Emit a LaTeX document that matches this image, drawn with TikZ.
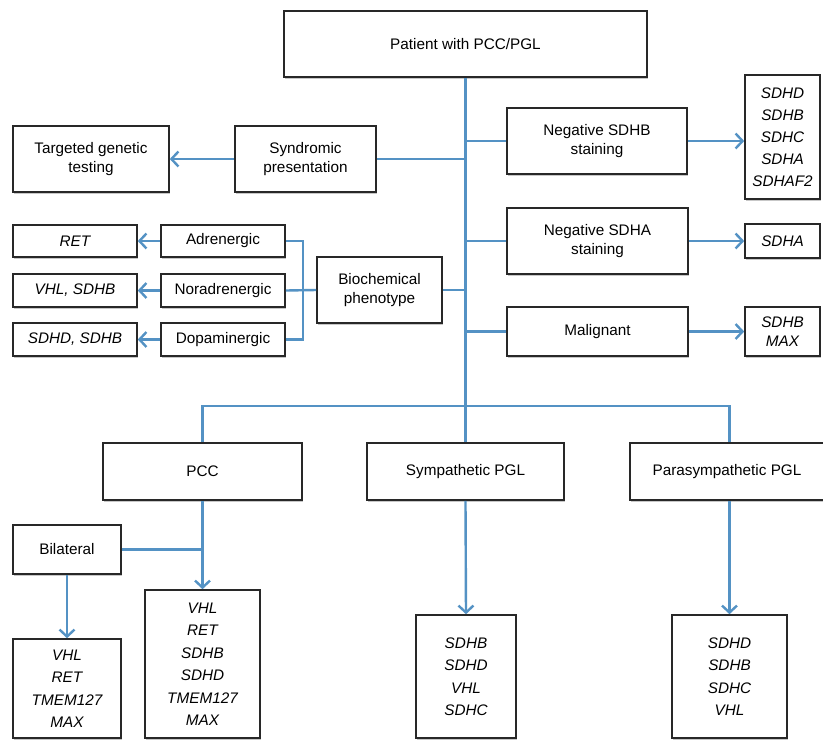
\documentclass[tikz,border=0pt]{standalone}
\usepackage{fontspec}
\setmainfont{Liberation Sans}
\usetikzlibrary{arrows.meta,shadows}
\definecolor{lineblue}{RGB}{84,146,196}
\definecolor{boxline}{RGB}{40,40,40}
\begin{document}
\begin{tikzpicture}[x=1pt,y=-1pt,
  box/.style={draw=boxline,line width=1.6pt,fill=white,align=center,inner sep=0pt,
    font=\fontsize{15.3}{18.5}\selectfont,
    drop shadow={shadow xshift=1.2pt,shadow yshift=-2pt,opacity=0.22,fill=black}},
  lst/.style={box,font=\fontsize{15.3}{22.5}\selectfont\itshape},
  conn/.style={draw=lineblue,line width=2.4pt},
  arr/.style={conn,-{Straight Barb[length=7pt,width=15pt,line width=2.4pt]}}]
\useasboundingbox (0,0) rectangle (823,740);
\fill[white] (0,0) rectangle (823,740);
% top
\node[box,minimum width=363pt,minimum height=66pt] (pat) at (465.5,44) {Patient with PCC/PGL};
\node[box,minimum width=156pt,minimum height=66pt] (tgt) at (91,159) {Targeted genetic\\testing};
\node[box,minimum width=141pt,minimum height=66pt] (syn) at (305.5,159) {Syndromic\\presentation};
\node[box,minimum width=180pt,minimum height=66pt] (nsdhb) at (597,141) {Negative SDHB\\staining};
\node[lst,minimum width=75pt,minimum height=124pt,font=\fontsize{15.3}{22}\selectfont\itshape] (lsdhb) at (782.5,137) {SDHD\\SDHB\\SDHC\\SDHA\\SDHAF2};
\node[box,minimum width=181pt,minimum height=66pt] (nsdha) at (597.5,241) {Negative SDHA\\staining};
\node[lst,minimum width=75pt,minimum height=34pt] (lsdha) at (782.5,241) {SDHA};
\node[box,minimum width=181pt,minimum height=49pt] (mal) at (597.5,331.5) {Malignant};
\node[lst,minimum width=75pt,minimum height=49pt,font=\fontsize{15.3}{19}\selectfont\itshape] (lmal) at (782.5,331.5) {SDHB\\MAX};
% biochemical
\node[box,minimum width=125pt,minimum height=66pt] (bio) at (379.5,290) {Biochemical\\phenotype};
\node[box,minimum width=124pt,minimum height=32pt] (adr) at (223,241) {Adrenergic};
\node[box,minimum width=124pt,minimum height=33pt] (nor) at (223,290.5) {Noradrenergic};
\node[box,minimum width=124pt,minimum height=33pt] (dop) at (223,339.5) {Dopaminergic};
\node[lst,minimum width=124pt,minimum height=32pt] (ret) at (75,241) {RET};
\node[lst,minimum width=124pt,minimum height=33pt] (vhl) at (75,290.5) {VHL, SDHB};
\node[lst,minimum width=124pt,minimum height=33pt] (sdhd) at (75,339.5) {SDHD, SDHB};
% bottom
\node[box,minimum width=199pt,minimum height=57pt] (pcc) at (202.5,471.5) {PCC};
\node[box,minimum width=197pt,minimum height=57pt] (sym) at (465.5,471.5) {Sympathetic PGL};
\node[box,minimum width=194pt,minimum height=57pt] (para) at (727,471.5) {Parasympathetic PGL};
\node[box,minimum width=108pt,minimum height=49pt] (bil) at (67,549.5) {Bilateral};
\node[lst,minimum width=108pt,minimum height=99pt] (lbil) at (67,688.5) {VHL\\RET\\TMEM127\\MAX};
\node[lst,minimum width=115pt,minimum height=148pt] (lpcc) at (202.5,664) {VHL\\RET\\SDHB\\SDHD\\TMEM127\\MAX};
\node[lst,minimum width=100pt,minimum height=123pt] (lsym) at (466,676.5) {SDHB\\SDHD\\VHL\\SDHC};
\node[lst,minimum width=115pt,minimum height=123pt] (lpara) at (729.5,676.5) {SDHD\\SDHB\\SDHC\\VHL};
\coordinate (bj) at (466,406);
% connectors
\draw[conn] (pat.south) -- (sym.north);
\draw[conn] (syn.east) -- (syn.east -| pat.south);
\draw[arr] (syn.west) -- (tgt.east);
\draw[conn] (nsdhb.west) -- (nsdhb.west -| pat.south);
\draw[arr] (nsdhb.east) -- (lsdhb.west |- nsdhb.east);
\draw[conn] (nsdha.west) -- (nsdha.west -| pat.south);
\draw[arr] (nsdha.east) -- (lsdha.west);
\draw[conn] (mal.west) -- (mal.west -| pat.south);
\draw[arr] (mal.east) -- (lmal.west);
\draw[conn] (bio.east) -- (bio.east -| pat.south);
\draw[conn] (nor.east) -- (bio.west);
\draw[conn] (adr.east) -- ++(17,0) |- (dop.east);
\draw[arr] (adr.west) -- (ret.east);
\draw[arr] (nor.west) -- (vhl.east);
\draw[arr] (dop.west) -- (sdhd.east);
\draw[conn] (pcc.north) |- (bj) -| (lpara.north |- para.north);
\draw[arr] (pcc.south) -- (lpcc.north);
\draw[conn] (bil.east) -- (bil.east -| pcc.south);
\draw[arr] (bil.south) -- (lbil.north);
\draw[arr] (sym.south) -- (lsym.north);
\draw[arr] (lpara.north |- para.south) -- (lpara.north);
\end{tikzpicture}
\end{document}
